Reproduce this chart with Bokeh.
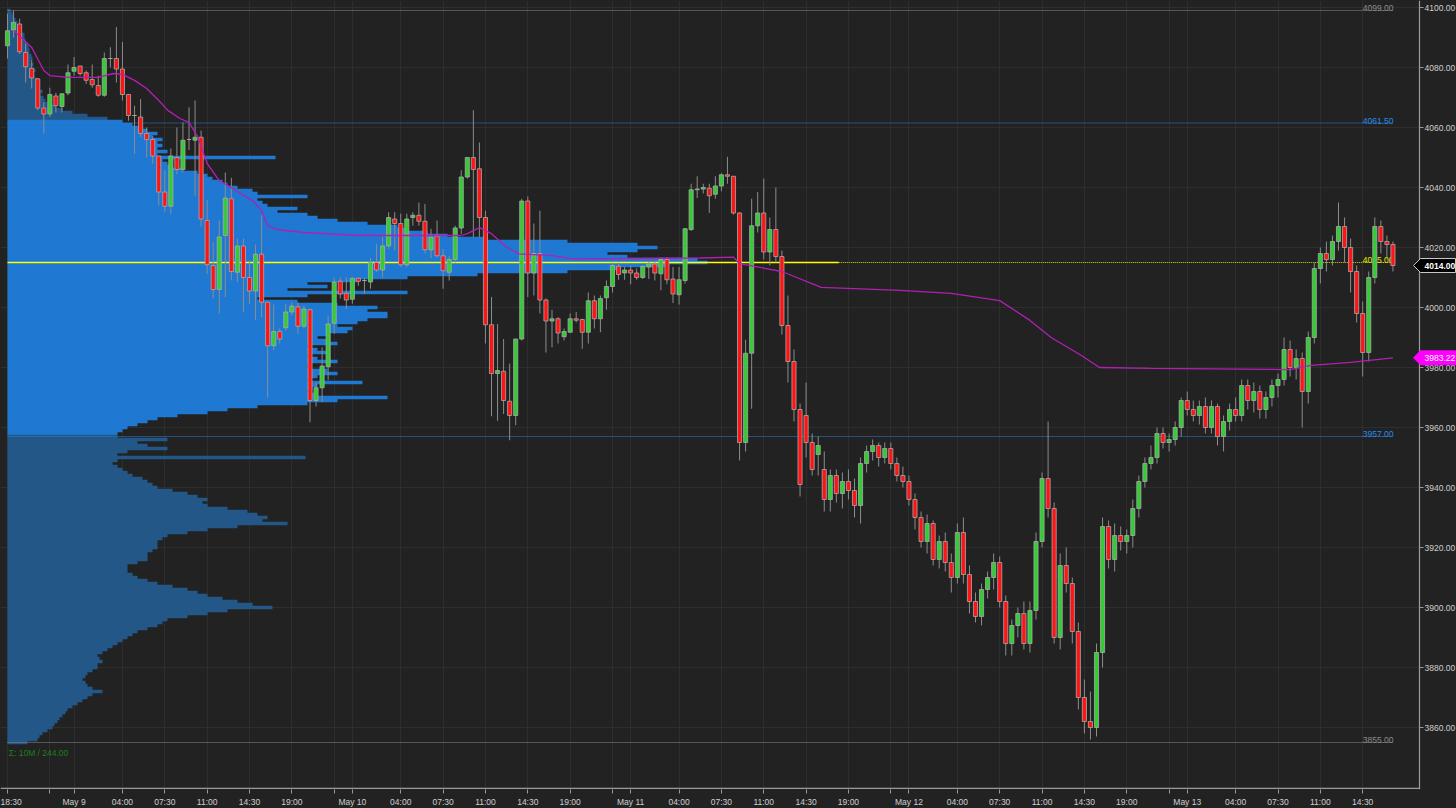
from bokeh.plotting import figure
from bokeh.models import Range1d, FixedTicker, ColumnDataSource
from bokeh.embed import file_html
from bokeh.resources import INLINE
from bokeh.core.properties import value

# ---------------- data ----------------
opens = [
 4087.25, 4092.5, 4094.5, 4085, 4079.75, 4076.25, 4066.5, 4064.5, 4070.5, 4067,
 4071.5, 4078.75, 4080.5, 4078.25, 4076, 4074, 4070.75, 4083, 4083, 4079.5,
 4071, 4064, 4063.5, 4058, 4056, 4050.5, 4038.5, 4033.75, 4050, 4046,
 4056, 4055.75, 4056.75, 4029, 4014, 4006, 4024, 4036.25, 4011.75, 4020.5,
 4010, 4005.5, 4017.75, 4001.75, 3987.25, 3992, 3993.25, 3998.5, 4000.25, 3993.75,
 3999.25, 3969, 3973.25, 3980.25, 3994.75, 4008.75, 4004.75, 4002.75, 4009.75, 4009,
 4008.5, 4015, 4012.5, 4020.5, 4029.5, 4028, 4014.25, 4030, 4030.75, 4028.75,
 4019.25, 4023.75, 4017.25, 4011.75, 4016, 4026.5, 4043.5, 4050, 4046.25, 4030,
 3994.25, 3978, 3978.75, 3968.75, 3964, 3989.5, 4035.5, 4011.5, 4018, 4002.5,
 3995.5, 3996.25, 3990.25, 3991.75, 3996.25, 3996, 3991.75, 4002.25, 3996.25, 4003.25,
 4007, 4013.75, 4011.5, 4012.5, 4011.5, 4010, 4013.5, 4014.5, 4011.25, 4016,
 4009.5, 4004.25, 4009, 4026, 4039.25, 4039.5, 4039.75, 4037.75, 4040.5, 4044.25,
 4043.75, 4031.5, 3955, 3984.75, 4027.25, 4031.5, 4018.5, 4026, 4017, 3994,
 3982, 3966, 3964, 3955, 3951, 3946, 3936, 3944, 3938, 3942,
 3939, 3934, 3948, 3952, 3954, 3950, 3953, 3948, 3944, 3942,
 3936, 3930, 3922, 3928, 3916, 3922, 3915, 3910, 3925, 3911,
 3902, 3897, 3906, 3910, 3915, 3902, 3888, 3894, 3898, 3888,
 3899, 3922, 3943, 3933, 3890, 3914, 3908, 3892, 3870, 3862,
 3860, 3885, 3927, 3916, 3924, 3922, 3924, 3933, 3942, 3948,
 3950, 3958, 3955, 3956, 3960, 3969, 3966, 3964, 3967, 3960,
 3967, 3957, 3962, 3966, 3964, 3974, 3969, 3972, 3966, 3970,
 3974, 3976, 3986, 3980, 3983, 3972, 3990, 4013, 4018, 4016,
 4022, 4027, 4020, 4012, 3998, 3985, 4010, 4027, 4022, 4021]

highs = [
 4098, 4099, 4096.25, 4088, 4082.5, 4076.25, 4068.5, 4073.25, 4071.5, 4071.25,
 4081, 4083.5, 4080.5, 4079, 4081, 4077.25, 4085, 4086.75, 4093.5, 4088.5,
 4071, 4067.25, 4069.5, 4060, 4057.25, 4050.5, 4045.75, 4053, 4060, 4061.75,
 4066.75, 4069, 4059, 4035.75, 4021.75, 4029, 4045, 4043.25, 4023, 4023,
 4015.75, 4021, 4030.75, 4001.75, 4001, 3993, 4001.25, 4001.75, 4001.75, 4000.75,
 3999.5, 3975, 3986.75, 3997.25, 4010, 4010, 4010, 4010, 4010, 4010,
 4016.5, 4021.25, 4023.5, 4031.75, 4031.75, 4031.25, 4031.25, 4031.75, 4035, 4034.5,
 4026.25, 4029, 4019.5, 4017.25, 4027.25, 4045.75, 4050, 4065.75, 4055, 4032.25,
 4003.5, 3994.5, 3989.5, 3981.25, 3989.5, 4036.25, 4037, 4028, 4032.25, 4003,
 3999.25, 3996.75, 3993, 3998, 3998.5, 3996.25, 4005, 4004, 4004, 4009,
 4015, 4015, 4013.5, 4014, 4013, 4013.75, 4015.5, 4015.5, 4016.75, 4016.75,
 4013.5, 4013.5, 4026.5, 4041.25, 4043.75, 4041.25, 4041.25, 4043.75, 4044.75, 4050.25,
 4043.75, 4031.75, 3989.25, 4036.25, 4038.5, 4043, 4030, 4040, 4019, 4004,
 3986, 3968, 3975, 3958, 3957, 3952, 3946, 3946, 3945, 3946,
 3943, 3950, 3954, 3956, 3955, 3955, 3955, 3950, 3947, 3944,
 3938, 3932, 3931, 3929, 3924, 3925, 3918, 3928, 3930, 3914,
 3905, 3908, 3912, 3918, 3917, 3904, 3896, 3900, 3902, 3902,
 3925, 3945, 3962, 3935, 3918, 3920, 3910, 3895, 3876, 3872,
 3888, 3930, 3929, 3928, 3927, 3926, 3936, 3944, 3950, 3954,
 3960, 3960, 3958, 3962, 3970, 3972, 3969, 3969, 3970, 3969,
 3968, 3964, 3968, 3970, 3976, 3976, 3975, 3974, 3972, 3976,
 3978, 3990, 3989, 3986, 3985, 3992, 4015, 4020, 4022, 4024,
 4035, 4030, 4023, 4014, 4002, 4012, 4030, 4029, 4024, 4022]

lows = [
 4083, 4090, 4084.5, 4075, 4073, 4065.75, 4058, 4063.5, 4065, 4065,
 4070.75, 4077.25, 4077.25, 4074.5, 4073.25, 4070.25, 4070.25, 4080, 4075, 4069,
 4062.25, 4051.25, 4056.75, 4050, 4048, 4034, 4031.75, 4031.25, 4044.5, 4045,
 4052.5, 4037.25, 4027, 4011.25, 4003, 3998, 4003.5, 4009, 4008.5, 3998.5,
 4001.25, 3995.75, 3996.75, 3970, 3985.75, 3988, 3992.25, 3997.25, 3991.25, 3993,
 3961.75, 3967, 3968.5, 3975.75, 3991.25, 4003, 3999.5, 4001.25, 4007.25, 4004.5,
 4006.25, 4011.75, 4010, 4019.5, 4019, 4013.5, 4013.5, 4027.25, 4027.25, 4018,
 4016.5, 4016.75, 4006.25, 4009, 4015, 4024.5, 4043, 4023.5, 4023.5, 3988,
 3963.75, 3962.25, 3964.5, 3955.75, 3960.75, 3989, 4003.5, 4004, 3998, 3985,
 3986.75, 3988, 3989, 3991.5, 3995, 3986.25, 3988, 3993, 3991.75, 3999.25,
 4005, 4009.25, 4009.25, 4007.75, 4009.25, 4009.5, 4009.5, 4009, 4005.75, 4007.75,
 4001.5, 4001, 4008, 4025.5, 4036.5, 4038, 4031.5, 4036.25, 4038.75, 4041.25,
 4031, 3949, 3952, 3966.25, 4025, 4016, 4014, 4015, 3991, 3975,
 3962, 3937, 3950, 3944, 3944, 3932, 3932, 3935, 3933, 3936,
 3930, 3928, 3945, 3949, 3947, 3948, 3946, 3942, 3940, 3934,
 3926, 3920, 3918, 3914, 3913, 3912, 3905, 3908, 3908, 3898,
 3895, 3894, 3903, 3906, 3900, 3884, 3884, 3890, 3886, 3885,
 3896, 3920, 3930, 3888, 3886, 3905, 3888, 3866, 3858, 3856,
 3857, 3880, 3913, 3912, 3919, 3918, 3920, 3930, 3940, 3946,
 3948, 3953, 3952, 3954, 3957, 3964, 3962, 3961, 3958, 3958,
 3954, 3952, 3959, 3962, 3962, 3966, 3965, 3963, 3963, 3967,
 3970, 3974, 3977, 3976, 3960, 3968, 3988, 4008, 4012, 4014,
 4019, 4015, 4005, 3995, 3977, 3982, 4008, 4018, 4016, 4012]

closes = [
 4092.25, 4095, 4085.25, 4080.25, 4076.5, 4066.5, 4064.5, 4071, 4067.25, 4071.25,
 4078.25, 4080, 4078, 4075.75, 4074.25, 4070.75, 4083, 4083, 4079.5, 4071,
 4064, 4064, 4058, 4056, 4050.5, 4038.5, 4033.75, 4050.5, 4046, 4055.75,
 4056, 4056.75, 4029.5, 4014.25, 4006, 4023.5, 4036.5, 4012, 4020.5, 4010,
 4005.5, 4017.75, 4001.75, 3987.25, 3992, 3989.5, 3998.5, 4000.5, 3993.75, 3999.5,
 3969, 3973.25, 3980.5, 3994.5, 4008.5, 4004.5, 4002.5, 4009.75, 4008.75, 4009,
 4015, 4012.5, 4020.5, 4030, 4028, 4014.25, 4029.5, 4030.75, 4028.75, 4019.25,
 4023.5, 4017.25, 4012.25, 4016, 4026.5, 4043.5, 4050, 4046, 4030, 3994.25,
 3978, 3979, 3969, 3964, 3989.5, 4035.5, 4011.5, 4018, 4002.5, 3995.5,
 3996.25, 3991.5, 3992, 3996.25, 3995.75, 3991.75, 4002.25, 3996.25, 4003, 4007,
 4014, 4011, 4012.5, 4011.5, 4010, 4013.75, 4014.5, 4011.5, 4016, 4009.25,
 4004.5, 4009.25, 4026.25, 4039.25, 4039.5, 4040, 4037.25, 4040.5, 4044.25, 4043.75,
 4031.5, 3955, 3984.75, 4027.25, 4031.5, 4018.5, 4026, 4017, 3994, 3982,
 3966, 3941, 3955, 3946, 3954, 3936, 3944, 3938, 3942, 3939,
 3934, 3948, 3952, 3954, 3950, 3953, 3948, 3944, 3942, 3936,
 3930, 3922, 3928, 3916, 3922, 3915, 3910, 3925, 3911, 3902,
 3897, 3906, 3910, 3915, 3902, 3888, 3894, 3898, 3888, 3899,
 3922, 3943, 3933, 3890, 3914, 3908, 3892, 3870, 3862, 3860,
 3885, 3927, 3916, 3924, 3922, 3924, 3933, 3942, 3948, 3950,
 3958, 3955, 3956, 3960, 3969, 3966, 3964, 3967, 3960, 3967,
 3957, 3962, 3966, 3964, 3974, 3969, 3972, 3966, 3970, 3974,
 3976, 3986, 3980, 3983, 3972, 3990, 4013, 4018, 4016, 4022,
 4027, 4020, 4012, 3998, 3985, 4010, 4027, 4022, 4021, 4014]

# volume profile: relative volume per 1-point level, from 4099 down to 3855
profile_top = 4099
profile_vol = [
 3, 5, 6, 8, 10, 11, 13, 14, 17, 17,
 18, 20, 21, 22, 22, 24, 25, 23, 26, 24,
 28, 26, 27, 30, 28, 32, 30, 35, 33, 36,
 38, 40, 48, 55, 65, 80, 100, 115, 125, 135,
 140, 150, 145, 155, 150, 155, 150, 160, 150, 268,
 155, 160, 165, 175, 190, 200, 205, 215, 220, 230,
 245, 250, 300, 250, 255, 260, 290, 270, 300, 310,
 330, 360, 390, 400, 420, 440, 480, 560, 630, 650,
 630, 600, 620, 690, 700, 660, 610, 560, 470, 400,
 350, 300, 320, 280, 400, 300, 250, 290, 330, 370,
 360, 380, 380, 360, 350, 330, 345, 340, 320, 310,
 320, 330, 300, 310, 320, 300, 310, 330, 300, 300,
 320, 330, 310, 300, 355, 310, 305, 300, 310, 380,
 330, 300, 250, 220, 200, 170, 150, 140, 130, 120,
 115, 110, 110, 160, 130, 140, 160, 120, 110, 298,
 110, 105, 110, 115, 120, 125, 135, 140, 145, 150,
 165, 180, 190, 200, 195, 200, 220, 240, 250, 260,
 255, 280, 230, 200, 180, 160, 155, 150, 150, 150,
 145, 140, 140, 140, 130, 120, 120, 120, 125, 130,
 140, 150, 165, 180, 190, 200, 215, 230, 245, 265,
 220, 200, 180, 160, 155, 150, 140, 130, 125, 120,
 115, 110, 105, 100, 95, 90, 92, 95, 90, 90,
 85, 80, 78, 75, 78, 80, 85, 95, 85, 80,
 75, 70, 65, 60, 58, 55, 52, 50, 47, 45,
 40, 35, 32, 30, 20]
value_area_high = 4061.5
value_area_low = 3957.0
poc = 4015.0
session_high = 4099.0
session_low = 3855.0
last_price = 4014.00
vwap_last = 3983.22

# VWAP read at selected bars
vwap_bar = [1, 4, 6, 7, 10, 15, 17.5, 19, 21, 23, 25, 26.5, 28.5, 30, 31.5, 33, 35, 37, 38.5,
            40.5, 42, 43, 44.5, 49, 58, 75, 76, 78, 80, 82.5, 84.5, 90, 93.5, 114.5, 120,
            121, 128, 134.5, 147.5, 156, 164, 169, 172.5, 177.5, 180.5, 189, 212, 215.5, 222, 229]
vwap_val = [4092.3, 4086.7, 4079, 4077.3, 4076.7, 4076.7, 4078, 4077.7, 4075.7, 4073, 4069,
            4065.7, 4063, 4061.7, 4056.7, 4048, 4042.3, 4040, 4038, 4035.7, 4032.3, 4027.3,
            4026, 4025, 4024, 4024, 4024.6, 4026.6, 4024.6, 4020.1, 4017.9, 4017.3, 4016.2,
            4016.5, 4016.8, 4014.6, 4012, 4006.7, 4005.7, 4004.7, 4002.3, 3995.7, 3990, 3984,
            3980, 3979.7, 3979.3, 3980.7, 3981.7, 3983.2]

# time axis (30-minute bars, sessions start 18:00, stamped at bar close)
tick_session = [0, 0, 0, 0, 0, 0, 0,
                1, 1, 1, 1, 1, 1, 1,
                2, 2, 2, 2, 2, 2, 2,
                3, 3, 3, 3, 3, 3, 3,
                4, 4, 4, 4, 4, 4, 4]
tick_clock = ["18:30", "22:00", "00:00", "04:00", "07:30", "11:00", "14:30",
              "19:00", "22:30", "00:00", "04:00", "07:30", "11:00", "14:30",
              "19:00", "22:30", "00:00", "04:00", "07:30", "11:00", "14:30",
              "19:00", "22:30", "00:00", "04:00", "07:30", "11:00", "14:30",
              "19:00", "22:30", "00:00", "04:00", "07:30", "11:00", "14:30"]
tick_labels = ["18:30", "", "May 9", "04:00", "07:30", "11:00", "14:30",
               "19:00", "", "May 10", "04:00", "07:30", "11:00", "14:30",
               "19:00", "", "May 11", "04:00", "07:30", "11:00", "14:30",
               "19:00", "", "May 12", "04:00", "07:30", "11:00", "14:30",
               "19:00", "", "May 13", "04:00", "07:30", "11:00", "14:30"]
price_ticks = [3860, 3880, 3900, 3920, 3940, 3960, 3980, 4000, 4020, 4040, 4060, 4080, 4100]


def bar_of(session, clock):
    hh, mm = [int(s) for s in clock.split(":")]
    minutes = hh * 60 + mm - 18 * 60
    if minutes < 0:
        minutes += 24 * 60
    return session * 46 + minutes // 30 - 1


tick_bars = [bar_of(s, c) for s, c in zip(tick_session, tick_clock)]

# ---------------- styling / geometry ----------------
BG = "#222222"
GRID = "#2e2e2e"
AXIS = "#9a9a9a"
LABEL = "#cfcfcf"
FONT = "Liberation Sans"
PX_PER_BAR = 6.05
PX_PER_PT = 3.0
FRAME_W, FRAME_H = 1456, 789
X0 = -7 / PX_PER_BAR                 # left edge of frame (bars)
X1 = X0 + FRAME_W / PX_PER_BAR       # right edge of frame (bars)
AX_X = X0 + 1419 / PX_PER_BAR        # price-axis line position
Y1 = 4100 + 7 / PX_PER_PT
Y0 = Y1 - FRAME_H / PX_PER_PT
VA_BLUE = "#1f79d2"
OUT_BLUE = "#235788"


def px(n):
    return n / PX_PER_BAR


def pt(n):
    return n / PX_PER_PT


N = min(len(opens), len(highs), len(lows), len(closes))
xs = list(range(N))

p = figure(frame_width=FRAME_W, frame_height=FRAME_H, output_backend="svg",
           toolbar_location=None, x_range=Range1d(X0, X1), y_range=Range1d(Y0, Y1),
           y_axis_location=None, background_fill_color=BG, border_fill_color=BG,
           min_border=0, min_border_left=0, min_border_right=0, min_border_top=0,
           min_border_bottom=0, outline_line_color=None)

xa = p.xaxis[0]
xa.ticker = FixedTicker(ticks=tick_bars)
xa.major_label_overrides = {b: l for b, l in zip(tick_bars, tick_labels)}
xa.axis_line_color = None
xa.major_tick_line_color = AXIS
xa.minor_tick_line_color = None
xa.major_tick_in = 0
xa.major_tick_out = 4
xa.major_label_text_color = LABEL
xa.major_label_text_font = FONT
xa.major_label_text_font_size = "8.5px"
xa.major_label_standoff = 3
p.xgrid.grid_line_color = GRID
for g in p.grid:
    if g.dimension == 1:
        g.visible = False
        g.grid_line_color = None
p.ygrid.grid_line_color = None

# horizontal grid (own, stops at the price axis)
p.segment(x0=[X0] * len(price_ticks), y0=price_ticks, x1=[AX_X] * len(price_ticks),
          y1=price_ticks, line_color=GRID, line_width=1)

# volume profile
prof_price = [profile_top - i for i in range(len(profile_vol))]
prof_color = [VA_BLUE if value_area_low < pr < value_area_high + 0.6 else OUT_BLUE for pr in prof_price]
p.quad(left=[0] * len(prof_price), right=[px(v) for v in profile_vol],
       bottom=[pr - 0.56 for pr in prof_price], top=[pr + 0.56 for pr in prof_price],
       fill_color=prof_color, line_color=None)

# level lines
last_x = 229.1
p.segment(x0=[0, 0, 0, 0], y0=[session_high, value_area_high, value_area_low, session_low],
          x1=[last_x] * 4, y1=[session_high, value_area_high, value_area_low, session_low],
          line_color=["#8a8a8a", "#2a80d8", "#2a80d8", "#8a8a8a"], line_width=1,
          line_dash="1 1")
p.segment(x0=[0], y0=[poc], x1=[137.4], y1=[poc], line_color="#ffff00", line_width=1.6)
p.segment(x0=[137.4], y0=[poc], x1=[last_x], y1=[poc], line_color="#d8d800",
          line_width=1, line_dash="1 1")

levels = [session_high, value_area_high, poc, value_area_low, session_low]
lvl_src = ColumnDataSource(dict(
    x=[last_x] * 5, y=[lv + pt(2.5) for lv in levels], text=[f"{lv:.2f}" for lv in levels],
    c=["#8a8a8a", "#2a8ae6", "#e8e800", "#2a8ae6", "#8a8a8a"]))
p.text(x="x", y="y", text="text", source=lvl_src, text_color="c", text_align="right",
       text_baseline="alphabetic", text_font=value(FONT), text_font_size=value("8.5px"))

p.text(x=[0.2], y=[session_low - pt(10)], text=["\u03a3: 10M / 244.00"], text_color="#1d7f1d",
       text_align="left", text_baseline="alphabetic", text_font=value(FONT),
       text_font_size=value("8.5px"))

# candles
o = opens[:N]; c = closes[:N]
h = [max(highs[i], o[i], c[i]) for i in range(N)]
lo = [min(lows[i], o[i], c[i]) for i in range(N)]
cs = ColumnDataSource(dict(
    x=xs, high=h, low=lo,
    top=[max(o[i], c[i]) for i in range(N)],
    bottom=[min(o[i], c[i]) for i in range(N)],
    color=["#33cc33" if c[i] >= o[i] else "#ff1414" for i in range(N)]))
p.segment(x0="x", y0="low", x1="x", y1="high", source=cs, line_color="#8c8c8c", line_width=1)
p.vbar(x="x", top="top", bottom="bottom", width=0.68, source=cs, fill_color="color",
       line_color="#a9a9a9", line_width=0.8)

# VWAP
p.line(vwap_bar, vwap_val, line_color="#b31fb3", line_width=1.3)

# ---------- price axis on the right (drawn inside the wide frame) ----------
p.segment(x0=[AX_X], y0=[Y0], x1=[AX_X], y1=[Y1], line_color=AXIS, line_width=1.2)
p.segment(x0=[X0], y0=[Y0 + pt(1.2)], x1=[AX_X], y1=[Y0 + pt(1.2)], line_color=AXIS,
          line_width=1.3)
p.segment(x0=[AX_X] * len(price_ticks), y0=price_ticks,
          x1=[AX_X + px(4)] * len(price_ticks), y1=price_ticks, line_color=AXIS, line_width=1)
p.text(x=[AX_X + px(5)] * len(price_ticks), y=price_ticks,
       text=[f"{t:.2f}" for t in price_ticks], text_color=LABEL, text_align="left",
       text_baseline="middle", text_font=value(FONT), text_font_size=value("8.5px"))

# price markers
markers = [(last_price, "black", "#c8c8c8", "#ffffff", "bold"),
           (vwap_last, "#ff00ff", "#ff00ff", "#ffffff", "normal")]
for mval, fill, edge, tcol, style in markers:
    hh = pt(7)
    p.patch(x=[AX_X - px(6), AX_X + px(1), X1 - px(1), X1 - px(1), AX_X + px(1)],
            y=[mval, mval + hh, mval + hh, mval - hh, mval - hh],
            fill_color=fill, line_color=edge, line_width=1)
    p.text(x=[AX_X + px(5)], y=[mval], text=[f"{mval:.2f}"], text_color=tcol,
           text_align="left", text_baseline="middle", text_font=value(FONT),
           text_font_size=value("8.5px"), text_font_style=style)

html = file_html(p, INLINE)
html = html.replace("</head>", "<style>html,body{margin:0;padding:0;background:#222222;overflow:hidden;}</style></head>", 1)
open("out.html", "w").write(html)
